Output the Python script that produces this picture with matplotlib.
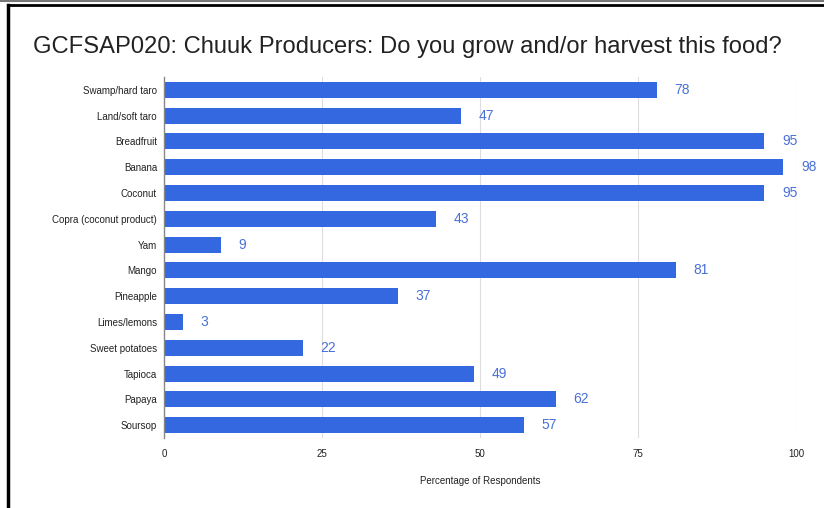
import matplotlib
matplotlib.use("Agg")
import matplotlib.pyplot as plt
from matplotlib.lines import Line2D

categories = ["Swamp/hard taro", "Land/soft taro", "Breadfruit", "Banana", "Coconut",
              "Copra (coconut product)", "Yam", "Mango", "Pineapple", "Limes/lemons",
              "Sweet potatoes", "Tapioca", "Papaya", "Soursop"]
values = [78, 47, 95, 98, 95, 43, 9, 81, 37, 3, 22, 49, 62, 57]
x_ticks = [0, 25, 50, 75, 100]

plt.rcParams['font.family'] = ['Liberation Sans', 'DejaVu Sans']

W, H = 824, 508
fig = plt.figure(figsize=(W / 100, H / 100), dpi=100)
fig.patch.set_facecolor('white')

ax = fig.add_axes([164 / W, 1 - 438 / H, (796 - 164) / W, (438 - 77) / H])
ypos = list(range(len(categories)))
bar_color = '#3468e0'
ax.barh(ypos, values, height=0.62, color=bar_color, zorder=3)
for y, v in zip(ypos, values):
    ax.text(v + 2.8, y, f"{v}", va='center', ha='left', fontsize=10,
            color='#4a70d8', zorder=4)

ax.set_ylim(len(categories) - 0.5, -0.5)
ax.set_xlim(0, 100)
ax.set_yticks(ypos)
ax.set_yticklabels(categories, fontsize=7, color='#222222')
ax.set_xticks(x_ticks)
ax.set_xticklabels([str(t) for t in x_ticks], fontsize=7, color='#222222')
ax.tick_params(axis='y', length=0, pad=5)
ax.tick_params(axis='x', length=0, pad=8)
ax.grid(axis='x', color='#dddddd', linewidth=0.8, zorder=0)
for s in ['top', 'right', 'bottom']:
    ax.spines[s].set_visible(False)
ax.spines['left'].set_color('#888888')
ax.spines['left'].set_linewidth(1.0)
ax.spines['left'].set_zorder(5)
ax.set_xlabel("Percentage of Respondents", fontsize=7, color='#222222', labelpad=12)

fig.text(33 / W, 1 - 47 / H, "GCFSAP020: Chuuk Producers: Do you grow and/or harvest this food?",
         fontsize=17.1, ha='left', va='center', color='#222222')

# frame lines around the panel
fig.add_artist(Line2D([0, 1], [1 - 1 / H, 1 - 1 / H], transform=fig.transFigure,
                      color='#777777', linewidth=1.5))
fig.add_artist(Line2D([8 / W, 1], [1 - 5 / H, 1 - 5 / H], transform=fig.transFigure,
                      color='black', linewidth=2.0))
fig.add_artist(Line2D([8 / W, 8 / W], [0, 1 - 5 / H], transform=fig.transFigure,
                      color='black', linewidth=2.5))

fig.savefig("out.png", dpi=100)
